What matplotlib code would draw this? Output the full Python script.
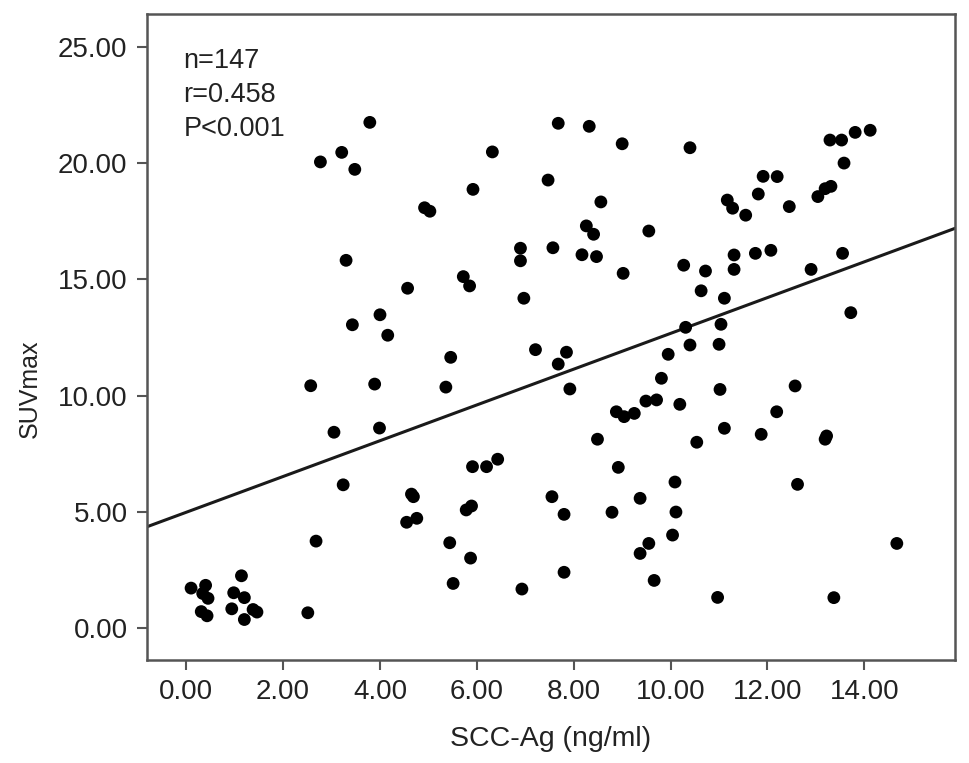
import matplotlib
matplotlib.use("Agg")
import matplotlib.pyplot as plt

# SCC-Ag (ng/ml) vs SUVmax
scc = [3.79, 3.21, 2.77, 3.48, 4.92, 5.03, 3.30, 4.57, 4.00, 3.43, 4.16,
       6.32, 5.92, 7.68, 8.32, 9.00, 10.40, 7.47, 8.56, 8.26, 8.41, 9.55,
       6.90, 6.90, 7.57, 8.17, 8.47, 10.27, 5.72, 5.85, 6.97, 9.02, 10.31,
       13.29, 13.53, 13.81, 14.12, 13.58, 11.91, 12.20, 11.81, 11.17, 11.28,
       11.55, 12.45, 13.04, 13.19, 13.31, 11.31, 11.75, 12.07, 11.31, 10.72,
       10.63, 11.11, 13.55, 12.90, 13.72, 11.04, 11.00, 10.40,
       2.57, 3.89, 3.05, 3.99, 3.24, 4.65, 4.69, 4.55, 4.76, 2.68, 2.51,
       0.10, 0.40, 0.34, 0.45, 0.31, 0.43, 1.14, 0.98, 1.20, 0.94, 1.38, 1.46, 1.20,
       5.46, 5.36, 7.21, 7.85, 7.68, 7.92, 9.95, 9.81, 10.19, 9.49, 9.71,
       8.88, 9.04, 9.25, 8.49, 8.92, 5.91, 6.20, 6.43, 10.09, 9.37, 8.79,
       10.11, 10.04, 9.55, 9.37, 9.66, 7.55, 7.80, 7.80, 6.93, 5.78, 5.89,
       5.44, 5.87, 5.51, 11.02, 12.57, 12.19, 11.11, 11.87, 10.54, 13.22,
       13.19, 12.62, 14.67, 10.97, 13.37]
suv = [21.75, 20.46, 20.05, 19.73, 18.08, 17.93, 15.82, 14.62, 13.48, 13.05, 12.60,
       20.48, 18.87, 21.71, 21.58, 20.83, 20.66, 19.27, 18.33, 17.30, 16.94, 17.08,
       16.34, 15.80, 16.36, 16.06, 15.98, 15.61, 15.12, 14.72, 14.19, 15.26, 12.94,
       20.99, 20.99, 21.32, 21.41, 20.00, 19.43, 19.42, 18.67, 18.41, 18.06,
       17.76, 18.13, 18.56, 18.90, 19.00, 16.05, 16.12, 16.25, 15.43, 15.36,
       14.51, 14.19, 16.12, 15.43, 13.57, 13.07, 12.21, 12.18,
       10.43, 10.50, 8.43, 8.61, 6.17, 5.77, 5.66, 4.56, 4.73, 3.75, 0.67,
       1.73, 1.85, 1.50, 1.29, 0.72, 0.54, 2.26, 1.53, 1.32, 0.84, 0.81, 0.70, 0.38,
       11.65, 10.37, 11.98, 11.87, 11.36, 10.29, 11.78, 10.75, 9.63, 9.77, 9.82,
       9.31, 9.10, 9.24, 8.13, 6.92, 6.95, 6.95, 7.27, 6.29, 5.59, 4.99,
       5.00, 4.01, 3.65, 3.22, 2.06, 5.66, 4.90, 2.41, 1.69, 5.09, 5.26,
       3.68, 3.02, 1.93, 10.27, 10.42, 9.31, 8.60, 8.34, 8.00, 8.27,
       8.13, 6.19, 3.65, 1.33, 1.32]

# fitted line as drawn in the figure
fit_intercept = 4.99
fit_slope = 0.769

x_ticks = [0, 2, 4, 6, 8, 10, 12, 14]
y_ticks = [0, 5, 10, 15, 20, 25]
stats_text = "n=147\nr=0.458\nP<0.001"

plt.rcParams['font.family'] = ['Liberation Sans', 'DejaVu Sans']

fig = plt.figure(figsize=(9.69, 7.63), dpi=100)
ax = fig.add_axes([0.1517, 0.135, 0.8338, 0.8467])

ax.scatter(scc, suv, s=85, color="black", edgecolors="none", zorder=3)

x_min, x_max = -0.81, 15.87
ax.plot([x_min, x_max], [fit_intercept + fit_slope * x_min, fit_intercept + fit_slope * x_max],
        color="#1a1a1a", linewidth=2.2, zorder=2)

ax.set_xlim(x_min, x_max)
ax.set_ylim(-1.36, 26.41)
ax.set_xticks(x_ticks)
ax.set_xticklabels([f"{v:.2f}" for v in x_ticks])
ax.set_yticks(y_ticks)
ax.set_yticklabels([f"{v:.2f}" for v in y_ticks])

for sp in ax.spines.values():
    sp.set_color("#555555")
    sp.set_linewidth(1.8)
ax.tick_params(direction="out", length=7, width=1.5, color="#555555",
               labelsize=20, pad=7, labelcolor="#222222")

ax.set_xlabel("SCC-Ag (ng/ml)", fontsize=20.5, color="#222222", labelpad=15)
ax.set_ylabel("SUVmax", fontsize=18, color="#222222")
ax.yaxis.set_label_coords(-0.13, 0.42)

ax.text(0.045, 0.948, stats_text, transform=ax.transAxes, fontsize=19.5,
        va="top", ha="left", linespacing=1.42, color="#222222")

fig.savefig("out.png", dpi=100)
